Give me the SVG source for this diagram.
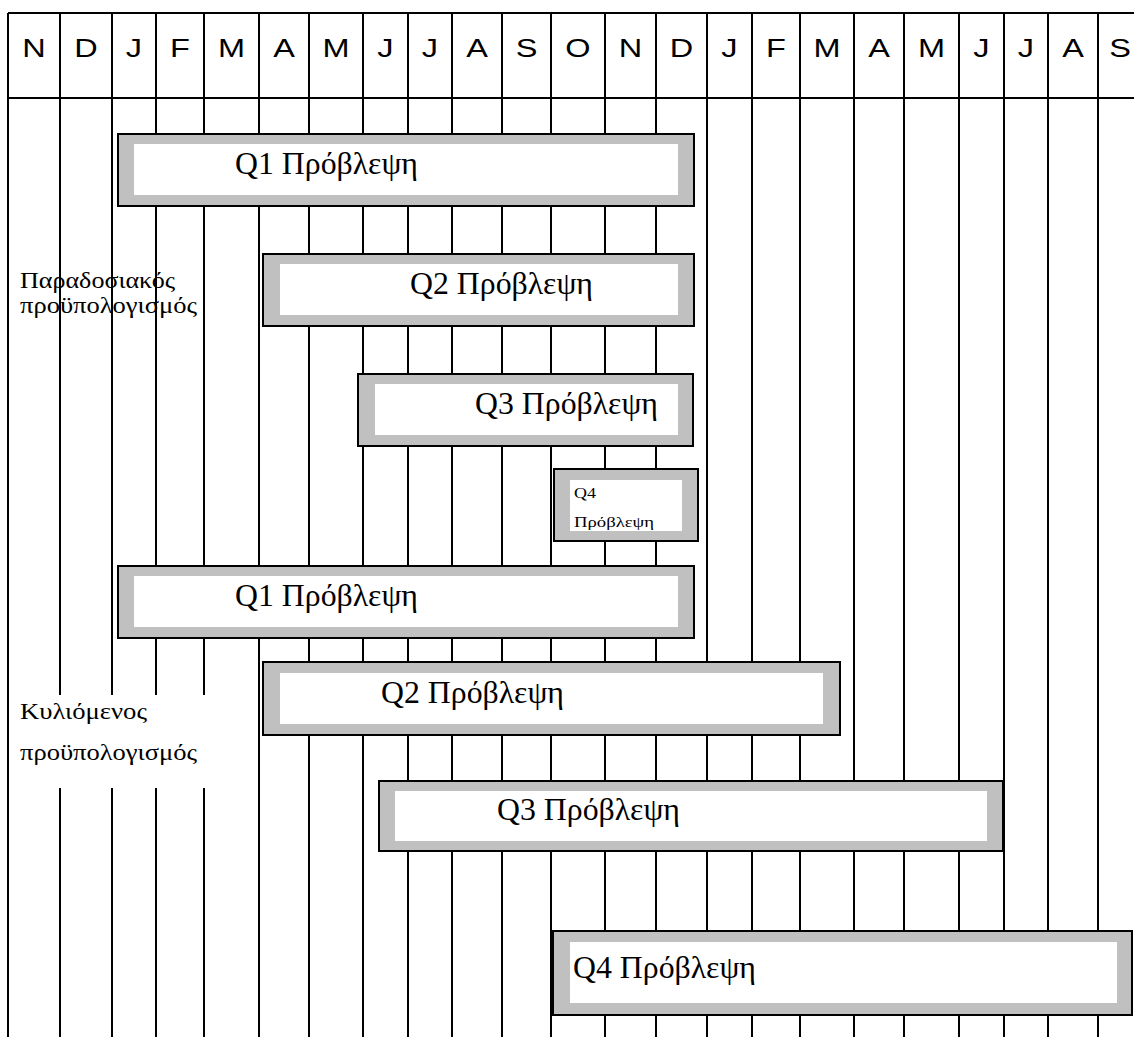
<svg xmlns="http://www.w3.org/2000/svg" width="1134" height="1037" viewBox="0 0 1134 1037">
  <style>
    .grid line { stroke: #000; stroke-width: 2; }
    .month { font-family: "Liberation Sans", Arial, sans-serif; font-size: 25px; fill: #000; text-anchor: middle; }
    .bar-outer { fill: #c0c0c0; stroke: #000; stroke-width: 2; }
    .bar-inner { fill: #fff; stroke: none; }
    .bar-text { font-family: "Liberation Serif", "DejaVu Serif", serif; font-size: 31.5px; fill: #000; }
    .small-text { font-family: "Liberation Serif", "DejaVu Serif", serif; font-size: 14px; fill: #000; }
    .label { font-family: "Liberation Serif", "DejaVu Serif", serif; font-size: 23px; fill: #000; }
  </style>

  <rect x="0" y="0" width="1134" height="1037" fill="#fff"/>

  <!-- month grid: header row and column rules -->
  <g id="grid" class="grid">
    <line x1="8" y1="13" x2="1134" y2="13"/>
    <line x1="8" y1="98" x2="1134" y2="98"/>
    <line x1="8" y1="13" x2="8" y2="1037"/>
    <line x1="60" y1="13" x2="60" y2="1037"/>
    <line x1="112" y1="13" x2="112" y2="1037"/>
    <line x1="156" y1="13" x2="156" y2="1037"/>
    <line x1="204" y1="13" x2="204" y2="1037"/>
    <line x1="259" y1="13" x2="259" y2="1037"/>
    <line x1="309" y1="13" x2="309" y2="1037"/>
    <line x1="363" y1="13" x2="363" y2="1037"/>
    <line x1="408" y1="13" x2="408" y2="1037"/>
    <line x1="452" y1="13" x2="452" y2="1037"/>
    <line x1="502" y1="13" x2="502" y2="1037"/>
    <line x1="551" y1="13" x2="551" y2="1037"/>
    <line x1="605" y1="13" x2="605" y2="1037"/>
    <line x1="656" y1="13" x2="656" y2="1037"/>
    <line x1="707" y1="13" x2="707" y2="1037"/>
    <line x1="752" y1="13" x2="752" y2="1037"/>
    <line x1="800" y1="13" x2="800" y2="1037"/>
    <line x1="854" y1="13" x2="854" y2="1037"/>
    <line x1="904" y1="13" x2="904" y2="1037"/>
    <line x1="959" y1="13" x2="959" y2="1037"/>
    <line x1="1004" y1="13" x2="1004" y2="1037"/>
    <line x1="1048" y1="13" x2="1048" y2="1037"/>
    <line x1="1098" y1="13" x2="1098" y2="1037"/>
  </g>

  <!-- month initials, set a little wide -->
  <g id="months" class="month">
    <text transform="translate(34 57) scale(1.3 1)">N</text>
    <text transform="translate(86 57) scale(1.3 1)">D</text>
    <text transform="translate(134 57) scale(1.3 1)">J</text>
    <text transform="translate(180 57) scale(1.3 1)">F</text>
    <text transform="translate(231.5 57) scale(1.3 1)">M</text>
    <text transform="translate(284 57) scale(1.3 1)">A</text>
    <text transform="translate(336 57) scale(1.3 1)">M</text>
    <text transform="translate(385.5 57) scale(1.3 1)">J</text>
    <text transform="translate(430 57) scale(1.3 1)">J</text>
    <text transform="translate(477 57) scale(1.3 1)">A</text>
    <text transform="translate(526.5 57) scale(1.3 1)">S</text>
    <text transform="translate(578 57) scale(1.3 1)">O</text>
    <text transform="translate(630.5 57) scale(1.3 1)">N</text>
    <text transform="translate(681.5 57) scale(1.3 1)">D</text>
    <text transform="translate(729.5 57) scale(1.3 1)">J</text>
    <text transform="translate(776 57) scale(1.3 1)">F</text>
    <text transform="translate(827 57) scale(1.3 1)">M</text>
    <text transform="translate(879 57) scale(1.3 1)">A</text>
    <text transform="translate(931.5 57) scale(1.3 1)">M</text>
    <text transform="translate(981.5 57) scale(1.3 1)">J</text>
    <text transform="translate(1026 57) scale(1.3 1)">J</text>
    <text transform="translate(1073 57) scale(1.3 1)">A</text>
    <text transform="translate(1120 57) scale(1.3 1)">S</text>
  </g>

  <!-- traditional budget -->
  <g id="label-traditional" class="label">
    <text x="20" y="288" textLength="155" lengthAdjust="spacingAndGlyphs">Παραδοσιακός</text>
    <text x="20" y="313" textLength="177" lengthAdjust="spacingAndGlyphs">προϋπολογισμός</text>
  </g>

  <g id="trad-q1">
    <rect class="bar-outer" x="118" y="134" width="576" height="72"/>
    <rect class="bar-inner" x="134" y="144" width="544" height="51"/>
    <text class="bar-text" x="235" y="174" textLength="183" lengthAdjust="spacingAndGlyphs">Q1 Πρόβλεψη</text>
  </g>
  <g id="trad-q2">
    <rect class="bar-outer" x="263" y="254" width="431" height="72"/>
    <rect class="bar-inner" x="280" y="264" width="398" height="51"/>
    <text class="bar-text" x="410" y="294" textLength="183" lengthAdjust="spacingAndGlyphs">Q2 Πρόβλεψη</text>
  </g>
  <g id="trad-q3">
    <rect class="bar-outer" x="358" y="374" width="335" height="72"/>
    <rect class="bar-inner" x="375" y="384" width="303" height="51"/>
    <text class="bar-text" x="475" y="414" textLength="183" lengthAdjust="spacingAndGlyphs">Q3 Πρόβλεψη</text>
  </g>
  <g id="trad-q4">
    <rect class="bar-outer" x="554" y="469" width="144" height="72"/>
    <rect class="bar-inner" x="570" y="480" width="112" height="51"/>
    <text class="small-text" x="574" y="498" textLength="22" lengthAdjust="spacingAndGlyphs">Q4</text>
    <text class="small-text" x="574" y="527" textLength="80" lengthAdjust="spacingAndGlyphs">Πρόβλεψη</text>
  </g>

  <!-- rolling budget -->
  <g id="label-rolling" class="label">
    <rect x="12" y="695" width="238" height="93" fill="#fff"/>
    <text x="20" y="719" textLength="127" lengthAdjust="spacingAndGlyphs">Κυλιόμενος</text>
    <text x="20" y="760" textLength="177" lengthAdjust="spacingAndGlyphs">προϋπολογισμός</text>
  </g>

  <g id="roll-q1">
    <rect class="bar-outer" x="118" y="566" width="576" height="72"/>
    <rect class="bar-inner" x="134" y="576" width="544" height="51"/>
    <text class="bar-text" x="235" y="606" textLength="183" lengthAdjust="spacingAndGlyphs">Q1 Πρόβλεψη</text>
  </g>
  <g id="roll-q2">
    <rect class="bar-outer" x="263" y="662" width="577" height="73"/>
    <rect class="bar-inner" x="280" y="673" width="543" height="51"/>
    <text class="bar-text" x="381" y="703" textLength="183" lengthAdjust="spacingAndGlyphs">Q2 Πρόβλεψη</text>
  </g>
  <g id="roll-q3">
    <rect class="bar-outer" x="379" y="781" width="624" height="70"/>
    <rect class="bar-inner" x="395" y="791" width="592" height="50"/>
    <text class="bar-text" x="497" y="820" textLength="183" lengthAdjust="spacingAndGlyphs">Q3 Πρόβλεψη</text>
  </g>
  <g id="roll-q4">
    <rect class="bar-outer" x="553" y="931" width="579" height="84"/>
    <rect class="bar-inner" x="570" y="942" width="547" height="61"/>
    <text class="bar-text" x="573" y="978" textLength="183" lengthAdjust="spacingAndGlyphs">Q4 Πρόβλεψη</text>
  </g>
</svg>
